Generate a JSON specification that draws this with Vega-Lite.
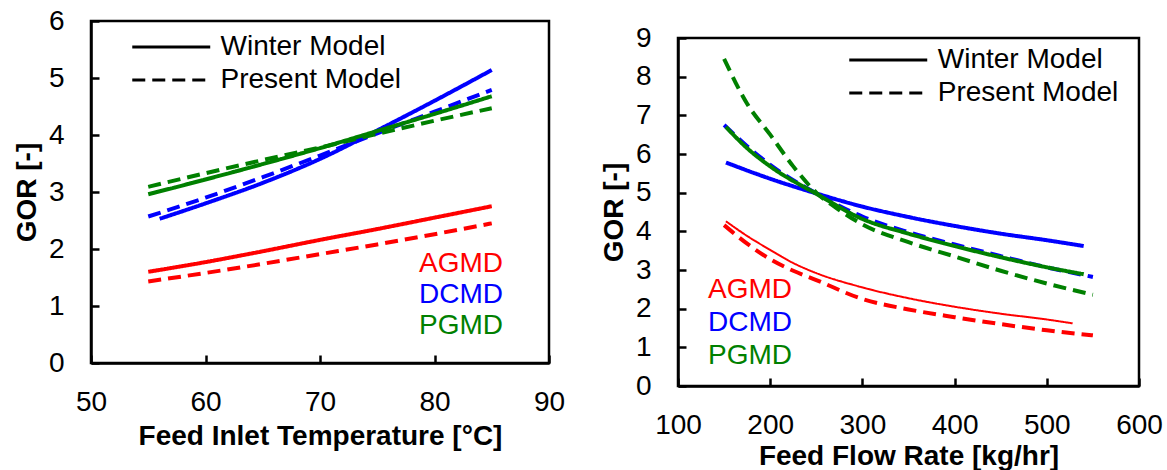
{
  "$schema": "https://vega.github.io/schema/vega-lite/v6.json",
  "background": "white",
  "padding": {"left": 12, "top": 5, "right": 5, "bottom": 5},
  "spacing": 33,
  "config": {
    "font": "Liberation Sans",
    "view": {"stroke": "black", "strokeWidth": 2.5},
    "axis": {
      "grid": false, "domainColor": "black", "domainWidth": 2.5,
      "tickColor": "black", "tickWidth": 2.5, "tickSize": -8,
      "labelFont": "Liberation Sans", "labelFontSize": 28, "labelColor": "black",
      "labelFlush": false, "labelOverlap": false,
      "titleFont": "Liberation Sans", "titleFontSize": 28, "titleFontWeight": "bold", "titleColor": "black"
    },
    "axisX": {"labelPadding": 33, "titlePadding": 6},
    "axisY": {"labelPadding": 35, "titlePadding": 7},
    "legend": {"labelFont": "Liberation Sans", "labelFontSize": 28, "labelColor": "black", "padding": 0, "labelLimit": 0}
  },
  "datasets": {
    "temperature": [
      {"T": 55, "GOR": 1.6, "method": "AGMD", "model": "Winter Model"},
      {"T": 60, "GOR": 1.77, "method": "AGMD", "model": "Winter Model"},
      {"T": 65, "GOR": 1.96, "method": "AGMD", "model": "Winter Model"},
      {"T": 70, "GOR": 2.16, "method": "AGMD", "model": "Winter Model"},
      {"T": 75, "GOR": 2.35, "method": "AGMD", "model": "Winter Model"},
      {"T": 80, "GOR": 2.55, "method": "AGMD", "model": "Winter Model"},
      {"T": 85, "GOR": 2.75, "method": "AGMD", "model": "Winter Model"},
      {"T": 55, "GOR": 1.43, "method": "AGMD", "model": "Present Model"},
      {"T": 60, "GOR": 1.58, "method": "AGMD", "model": "Present Model"},
      {"T": 65, "GOR": 1.74, "method": "AGMD", "model": "Present Model"},
      {"T": 70, "GOR": 1.91, "method": "AGMD", "model": "Present Model"},
      {"T": 75, "GOR": 2.08, "method": "AGMD", "model": "Present Model"},
      {"T": 80, "GOR": 2.26, "method": "AGMD", "model": "Present Model"},
      {"T": 85, "GOR": 2.45, "method": "AGMD", "model": "Present Model"},
      {"T": 56, "GOR": 2.53, "method": "DCMD", "model": "Winter Model"},
      {"T": 60, "GOR": 2.8, "method": "DCMD", "model": "Winter Model"},
      {"T": 65, "GOR": 3.16, "method": "DCMD", "model": "Winter Model"},
      {"T": 70, "GOR": 3.58, "method": "DCMD", "model": "Winter Model"},
      {"T": 75, "GOR": 4.08, "method": "DCMD", "model": "Winter Model"},
      {"T": 80, "GOR": 4.6, "method": "DCMD", "model": "Winter Model"},
      {"T": 85, "GOR": 5.14, "method": "DCMD", "model": "Winter Model"},
      {"T": 55, "GOR": 2.57, "method": "DCMD", "model": "Present Model"},
      {"T": 60, "GOR": 2.9, "method": "DCMD", "model": "Present Model"},
      {"T": 65, "GOR": 3.26, "method": "DCMD", "model": "Present Model"},
      {"T": 70, "GOR": 3.64, "method": "DCMD", "model": "Present Model"},
      {"T": 75, "GOR": 4.03, "method": "DCMD", "model": "Present Model"},
      {"T": 80, "GOR": 4.41, "method": "DCMD", "model": "Present Model"},
      {"T": 85, "GOR": 4.79, "method": "DCMD", "model": "Present Model"},
      {"T": 55, "GOR": 2.96, "method": "PGMD", "model": "Winter Model"},
      {"T": 60, "GOR": 3.22, "method": "PGMD", "model": "Winter Model"},
      {"T": 65, "GOR": 3.49, "method": "PGMD", "model": "Winter Model"},
      {"T": 70, "GOR": 3.77, "method": "PGMD", "model": "Winter Model"},
      {"T": 75, "GOR": 4.07, "method": "PGMD", "model": "Winter Model"},
      {"T": 80, "GOR": 4.37, "method": "PGMD", "model": "Winter Model"},
      {"T": 85, "GOR": 4.68, "method": "PGMD", "model": "Winter Model"},
      {"T": 55, "GOR": 3.09, "method": "PGMD", "model": "Present Model"},
      {"T": 60, "GOR": 3.33, "method": "PGMD", "model": "Present Model"},
      {"T": 65, "GOR": 3.56, "method": "PGMD", "model": "Present Model"},
      {"T": 70, "GOR": 3.78, "method": "PGMD", "model": "Present Model"},
      {"T": 75, "GOR": 4.02, "method": "PGMD", "model": "Present Model"},
      {"T": 80, "GOR": 4.25, "method": "PGMD", "model": "Present Model"},
      {"T": 85, "GOR": 4.47, "method": "PGMD", "model": "Present Model"}
    ],
    "flow": [
      {"F": 152, "GOR": 4.26, "method": "AGMD", "model": "Winter Model"},
      {"F": 175, "GOR": 3.88, "method": "AGMD", "model": "Winter Model"},
      {"F": 200, "GOR": 3.52, "method": "AGMD", "model": "Winter Model"},
      {"F": 225, "GOR": 3.18, "method": "AGMD", "model": "Winter Model"},
      {"F": 250, "GOR": 2.92, "method": "AGMD", "model": "Winter Model"},
      {"F": 300, "GOR": 2.55, "method": "AGMD", "model": "Winter Model"},
      {"F": 350, "GOR": 2.27, "method": "AGMD", "model": "Winter Model"},
      {"F": 400, "GOR": 2.05, "method": "AGMD", "model": "Winter Model"},
      {"F": 450, "GOR": 1.87, "method": "AGMD", "model": "Winter Model"},
      {"F": 500, "GOR": 1.72, "method": "AGMD", "model": "Winter Model"},
      {"F": 528, "GOR": 1.62, "method": "AGMD", "model": "Winter Model"},
      {"F": 150, "GOR": 4.16, "method": "AGMD", "model": "Present Model"},
      {"F": 175, "GOR": 3.68, "method": "AGMD", "model": "Present Model"},
      {"F": 200, "GOR": 3.28, "method": "AGMD", "model": "Present Model"},
      {"F": 225, "GOR": 2.98, "method": "AGMD", "model": "Present Model"},
      {"F": 250, "GOR": 2.74, "method": "AGMD", "model": "Present Model"},
      {"F": 300, "GOR": 2.25, "method": "AGMD", "model": "Present Model"},
      {"F": 350, "GOR": 1.98, "method": "AGMD", "model": "Present Model"},
      {"F": 400, "GOR": 1.78, "method": "AGMD", "model": "Present Model"},
      {"F": 450, "GOR": 1.6, "method": "AGMD", "model": "Present Model"},
      {"F": 500, "GOR": 1.44, "method": "AGMD", "model": "Present Model"},
      {"F": 550, "GOR": 1.31, "method": "AGMD", "model": "Present Model"},
      {"F": 152, "GOR": 5.78, "method": "DCMD", "model": "Winter Model"},
      {"F": 200, "GOR": 5.36, "method": "DCMD", "model": "Winter Model"},
      {"F": 250, "GOR": 4.98, "method": "DCMD", "model": "Winter Model"},
      {"F": 300, "GOR": 4.64, "method": "DCMD", "model": "Winter Model"},
      {"F": 350, "GOR": 4.37, "method": "DCMD", "model": "Winter Model"},
      {"F": 400, "GOR": 4.14, "method": "DCMD", "model": "Winter Model"},
      {"F": 450, "GOR": 3.94, "method": "DCMD", "model": "Winter Model"},
      {"F": 500, "GOR": 3.77, "method": "DCMD", "model": "Winter Model"},
      {"F": 540, "GOR": 3.62, "method": "DCMD", "model": "Winter Model"},
      {"F": 150, "GOR": 6.75, "method": "DCMD", "model": "Present Model"},
      {"F": 175, "GOR": 6.2, "method": "DCMD", "model": "Present Model"},
      {"F": 200, "GOR": 5.72, "method": "DCMD", "model": "Present Model"},
      {"F": 250, "GOR": 4.98, "method": "DCMD", "model": "Present Model"},
      {"F": 300, "GOR": 4.38, "method": "DCMD", "model": "Present Model"},
      {"F": 350, "GOR": 3.98, "method": "DCMD", "model": "Present Model"},
      {"F": 400, "GOR": 3.66, "method": "DCMD", "model": "Present Model"},
      {"F": 450, "GOR": 3.36, "method": "DCMD", "model": "Present Model"},
      {"F": 500, "GOR": 3.07, "method": "DCMD", "model": "Present Model"},
      {"F": 550, "GOR": 2.82, "method": "DCMD", "model": "Present Model"},
      {"F": 152, "GOR": 6.7, "method": "PGMD", "model": "Winter Model"},
      {"F": 175, "GOR": 6.15, "method": "PGMD", "model": "Winter Model"},
      {"F": 200, "GOR": 5.68, "method": "PGMD", "model": "Winter Model"},
      {"F": 250, "GOR": 4.97, "method": "PGMD", "model": "Winter Model"},
      {"F": 300, "GOR": 4.32, "method": "PGMD", "model": "Winter Model"},
      {"F": 350, "GOR": 3.94, "method": "PGMD", "model": "Winter Model"},
      {"F": 400, "GOR": 3.62, "method": "PGMD", "model": "Winter Model"},
      {"F": 450, "GOR": 3.33, "method": "PGMD", "model": "Winter Model"},
      {"F": 500, "GOR": 3.07, "method": "PGMD", "model": "Winter Model"},
      {"F": 540, "GOR": 2.89, "method": "PGMD", "model": "Winter Model"},
      {"F": 150, "GOR": 8.46, "method": "PGMD", "model": "Present Model"},
      {"F": 175, "GOR": 7.3, "method": "PGMD", "model": "Present Model"},
      {"F": 200, "GOR": 6.5, "method": "PGMD", "model": "Present Model"},
      {"F": 225, "GOR": 5.68, "method": "PGMD", "model": "Present Model"},
      {"F": 250, "GOR": 5.0, "method": "PGMD", "model": "Present Model"},
      {"F": 275, "GOR": 4.55, "method": "PGMD", "model": "Present Model"},
      {"F": 300, "GOR": 4.18, "method": "PGMD", "model": "Present Model"},
      {"F": 350, "GOR": 3.72, "method": "PGMD", "model": "Present Model"},
      {"F": 400, "GOR": 3.35, "method": "PGMD", "model": "Present Model"},
      {"F": 450, "GOR": 2.98, "method": "PGMD", "model": "Present Model"},
      {"F": 500, "GOR": 2.65, "method": "PGMD", "model": "Present Model"},
      {"F": 550, "GOR": 2.36, "method": "PGMD", "model": "Present Model"}
    ]
  },
  "resolve": {
    "scale": {"x": "independent", "y": "independent", "color": "independent", "strokeDash": "independent"},
    "legend": {"color": "independent", "strokeDash": "independent"}
  },
  "hconcat": [
    {
      "width": 458, "height": 342,
      "data": {"name": "temperature"},
      "mark": {"type": "line", "strokeWidth": 4, "interpolate": "monotone"},
      "encoding": {
        "x": {"field": "T", "type": "quantitative", "scale": {"domain": [50, 90], "nice": false},
              "axis": {"values": [50, 60, 70, 80, 90], "title": "Feed Inlet Temperature [°C]"}},
        "y": {"field": "GOR", "type": "quantitative", "scale": {"domain": [0, 6], "nice": false},
              "axis": {"values": [0, 1, 2, 3, 4, 5, 6], "title": "GOR [-]"}},
        "color": {"field": "method", "type": "nominal",
                  "scale": {"domain": ["AGMD", "DCMD", "PGMD"], "range": ["#ff0000", "#0000ff", "#008000"]},
                  "legend": {"title": null, "orient": "none", "legendX": 300, "legendY": 229,
                             "symbolOpacity": 0, "symbolSize": 4, "labelOffset": 0, "rowPadding": 3,
                             "encode": {"labels": {"update": {"fill": {"signal": "datum.value === 'AGMD' ? '#ff0000' : datum.value === 'DCMD' ? '#0000ff' : '#008000'"}}}}}},
        "strokeDash": {"field": "model", "type": "nominal",
                       "scale": {"domain": ["Winter Model", "Present Model"], "range": [[1, 0], [13, 7]]},
                       "legend": {"title": null, "orient": "none", "legendX": 66.25, "legendY": 12,
                                  "symbolType": "M-4,0H4", "symbolSize": 380, "symbolStrokeWidth": 3,
                                  "symbolStrokeColor": "black", "symbolFillColor": "transparent",
                                  "labelOffset": 35.25, "rowPadding": 5}}
      }
    },
    {
      "spacing": 0,
      "bounds": "flush",
      "resolve": {
        "scale": {"x": "independent", "y": "independent", "color": "independent", "strokeDash": "independent"},
        "legend": {"color": "independent", "strokeDash": "independent"}
      },
      "vconcat": [
        {
          "width": 1, "height": 17,
          "data": {"values": [{}]},
          "mark": {"type": "point", "opacity": 0},
          "encoding": {},
          "view": {"stroke": null}
        },
        {
          "width": 461, "height": 348,
          "data": {"name": "flow"},
          "mark": {"type": "line", "interpolate": "monotone"},
          "encoding": {
            "x": {"field": "F", "type": "quantitative", "scale": {"domain": [100, 600], "nice": false},
                  "axis": {"values": [100, 200, 300, 400, 500, 600], "title": "Feed Flow Rate [kg/hr]", "titlePadding": 3}},
            "y": {"field": "GOR", "type": "quantitative", "scale": {"domain": [0, 9], "nice": false},
                  "axis": {"values": [0, 1, 2, 3, 4, 5, 6, 7, 8, 9], "title": "GOR [-]"}},
            "strokeWidth": {"condition": {"test": "datum.method === 'AGMD' && datum.model === 'Winter Model'", "value": 2}, "value": 4},
            "color": {"field": "method", "type": "nominal",
                      "scale": {"domain": ["AGMD", "DCMD", "PGMD"], "range": ["#ff0000", "#0000ff", "#008000"]},
                      "legend": {"title": null, "orient": "none", "legendX": 2, "legendY": 238,
                                 "symbolOpacity": 0, "symbolSize": 4, "labelOffset": 0, "rowPadding": 5,
                                 "encode": {"labels": {"update": {"fill": {"signal": "datum.value === 'AGMD' ? '#ff0000' : datum.value === 'DCMD' ? '#0000ff' : '#008000'"}}}}}},
            "strokeDash": {"field": "model", "type": "nominal",
                           "scale": {"domain": ["Winter Model", "Present Model"], "range": [[1, 0], [13, 7]]},
                           "legend": {"title": null, "orient": "none", "legendX": 196.25, "legendY": 8,
                                      "symbolType": "M-4,0H4", "symbolSize": 380, "symbolStrokeWidth": 3,
                                      "symbolStrokeColor": "black", "symbolFillColor": "transparent",
                                      "labelOffset": 35.5, "rowPadding": 5}}
          }
        }
      ]
    }
  ]
}
